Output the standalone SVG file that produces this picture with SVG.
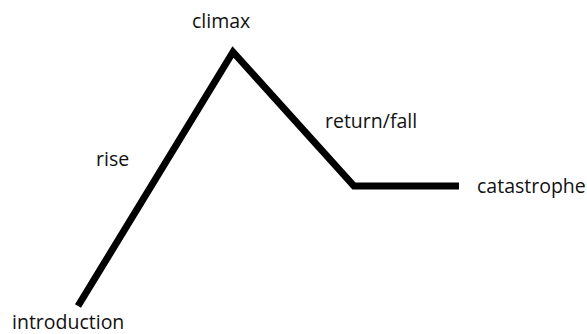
<svg xmlns="http://www.w3.org/2000/svg" width="587" height="334" viewBox="0 0 587 334">
<style>
text{font-family:"Open Sans","Liberation Sans",sans-serif;font-size:19.5px;fill:#111}
.line{fill:none;stroke:#000;stroke-width:7;stroke-linejoin:miter;stroke-linecap:butt}
</style>
<rect width="587" height="334" fill="#fff"/>
<g id="connectors">
<polyline class="line" points="78,306 233,52 354,186 459,186"/>
</g>
<g id="climax"><text x="192" y="28">climax</text></g>
<g id="rise"><text x="96" y="166">rise</text></g>
<g id="return-fall"><text x="325" y="128">return/fall</text></g>
<g id="catastrophe"><text x="477" y="193">catastrophe</text></g>
<g id="introduction"><text x="12" y="329">introduction</text></g>
</svg>
